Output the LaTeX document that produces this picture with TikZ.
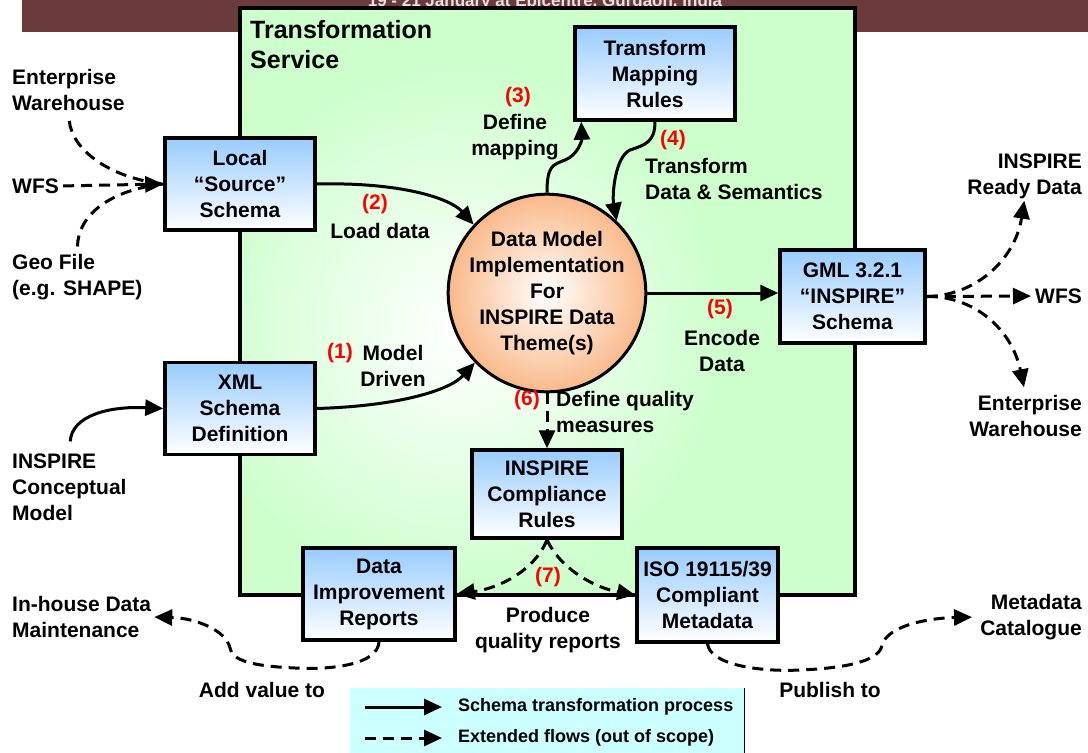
\documentclass[tikz,border=0pt]{standalone}
\usepackage{fontspec}
\setmainfont{Liberation Sans}
\usetikzlibrary{arrows.meta}
\definecolor{bannerred}{HTML}{6B3A3A}
\definecolor{servicegreen}{HTML}{CCFFCC}
\definecolor{schemablue}{HTML}{99CCFF}
\definecolor{themeorange}{HTML}{F9B98A}
\definecolor{legendcyan}{HTML}{CCFFFF}
\definecolor{stepred}{HTML}{FF0000}
\begin{document}
\begin{tikzpicture}[x=1pt, y=-1pt,
    txt/.style={font=\fontsize{21}{26}\selectfont\bfseries, inner sep=0pt, align=center},
    schemabox/.style={txt, draw, line width=3.5pt, top color=schemablue, bottom color=white, minimum width=150pt, minimum height=92pt},
    stepno/.style={txt, text=stepred},
    flow/.style={line width=3pt, -{Triangle[length=18pt, width=16pt]}},
    extflow/.style={flow, dash pattern=on 11pt off 7pt},
    legendtxt/.style={font=\fontsize{18}{21}\selectfont\bfseries, inner sep=0pt, anchor=west}]
\useasboundingbox (0,0) rectangle (1088,753);
\fill[bannerred] (22,0) rectangle (1088,32);
\node[font=\fontsize{17}{20}\selectfont\bfseries, text=white!85!bannerred, anchor=base] (banner) at (545,6) {19 - 21 January at Epicentre, Gurgaon, India};
\fill[servicegreen] (240,8) rectangle (855,595);
\begin{scope}
  \clip (240,8) rectangle (855,595);
  \shade[inner color=white, outer color=servicegreen] (460,330) circle (270);
\end{scope}
\draw[line width=3.5pt] (240,8) rectangle (855,595);
\node[txt, font=\fontsize{25}{30}\selectfont\bfseries, align=left, anchor=west] (servicetitle) at (250,45) {Transformation\\Service};

\node[schemabox, minimum width=160pt, minimum height=93pt] (maprules) at (655,73.5) {Transform\\Mapping\\Rules};
\node[schemabox] (local) at (240,184) {Local\\“Source”\\Schema};
\node[schemabox] (xmlschema) at (240,408.5) {XML\\Schema\\Definition};
\node[schemabox, minimum width=145pt, minimum height=93pt] (gml) at (852.5,296.5) {GML 3.2.1\\“INSPIRE”\\Schema};
\node[schemabox, minimum height=88pt] (compliance) at (547,494) {INSPIRE\\Compliance\\Rules};
\node[schemabox, minimum width=152pt] (improvement) at (379,594) {Data\\Improvement\\Reports};
\node[schemabox, minimum width=141pt, minimum height=94pt] (isometa) at (707.5,595) {ISO 19115/39\\Compliant\\Metadata};
\node[txt, circle, draw, line width=3pt, inner color=white, outer color=themeorange, minimum size=188pt] (theme) at (547,293) {Data Model\\Implementation\\For\\INSPIRE Data\\Theme(s)};

\node[txt, align=left, anchor=west] (lwarehouse) at (12,90) {Enterprise\\Warehouse};
\node[txt, anchor=west] (lwfs) at (12,186) {WFS};
\node[txt, align=left, anchor=west] (geofile) at (12,277.5) {Geo File\\(e.g. SHAPE)};
\node[txt, align=left, anchor=west] (conceptmodel) at (12,487) {INSPIRE\\Conceptual\\Model};
\node[txt, align=left, anchor=west] (inhouse) at (12,617) {In-house Data\\Maintenance};
\node[txt] (addvalue) at (262,690) {Add value to};
\node[txt] (produce) at (548,630) {Produce\\quality reports};
\node[txt] (publish) at (830,690) {Publish to};
\node[txt, align=right, anchor=east] (catalogue) at (1082,617) {Metadata\\Catalogue};
\node[txt, align=right, anchor=east] (readydata) at (1082,176) {INSPIRE\\Ready Data};
\node[txt, anchor=west] (rwfs) at (1035,296) {WFS};
\node[txt, align=right, anchor=east] (rwarehouse) at (1082,416) {Enterprise\\Warehouse};

\node[stepno] (step3) at (518,97) {(3)};
\node[txt] (definemap) at (515,137) {Define\\mapping};
\node[stepno] (step4) at (673,140) {(4)};
\node[txt, align=left, anchor=west] (transformdata) at (645,178.5) {Transform\\Data \& Semantics};
\node[stepno] (step2) at (375,204) {(2)};
\node[txt] (loaddata) at (380,231) {Load data};
\node[stepno] (step1) at (340,353) {(1)};
\node[txt] (modeldriven) at (393,366) {Model\\Driven};
\node[stepno] (step5) at (720,309) {(5)};
\node[txt] (encode) at (722,351) {Encode\\Data};
\node[stepno] (step6) at (527,400) {(6)};
\node[txt, align=left, anchor=west] (qualitymeasures) at (556,411.5) {Define quality\\measures};
\node[stepno] (step7) at (548,577) {(7)};

\draw[flow] (local.east) .. controls (400,182) and (450,198) .. (theme.137);
\draw[flow] (xmlschema.east) .. controls (400,406) and (450,390) .. (theme.224);
\draw[flow] (theme.north) .. controls (547,165) and (553,165) .. (565,160) .. controls (578,155) and (582,140) .. ([xshift=8pt]maprules.south west);
\draw[flow] (maprules.south) .. controls (655,142) and (645,145) .. (630,150) .. controls (615,157) and (612,195) .. (theme.46);
\draw[flow] (theme.east) -- (theme.east -| gml.west);
\draw[extflow] (theme.south) -- (compliance.north);
\draw[extflow] (compliance.south) .. controls (535,570) and (500,588) .. (improvement.east);
\draw[extflow] (compliance.south) .. controls (561,570) and (596,588) .. (isometa.west);

\draw[extflow, -, shorten <=10pt] (lwarehouse.south) .. controls (72,150) and (110,178) .. (local.west);
\draw[extflow, shorten <=4pt] (lwfs.east) -- (local.west);
\draw[extflow, -, shorten <=8pt] (geofile.north) .. controls (78,215) and (110,190) .. (local.west);
\draw[flow, shorten <=12pt] (conceptmodel.north) .. controls (72,415) and (110,406) .. (xmlschema.west);

\draw[extflow, shorten >=2pt] (gml.east) .. controls (975,296) and (1015,260) .. (readydata.south);
\draw[extflow, shorten >=4pt] (gml.east) -- (rwfs.west);
\draw[extflow, shorten >=8pt] (gml.east) .. controls (975,296) and (1012,330) .. (rwarehouse.north);

\draw[extflow, shorten >=3pt] (improvement.south) .. controls (378,665) and (330,670) .. (295,668) .. controls (250,666) and (232,660) .. (230,648) .. controls (226,630) and (195,618) .. (inhouse.east);
\draw[extflow, shorten >=8pt] (isometa.south) .. controls (710,665) and (760,672) .. (800,670) .. controls (850,668) and (880,660) .. (882,645) .. controls (888,625) and (930,618) .. (catalogue.west);

\fill[legendcyan] (350,688) rectangle (744,753);
\draw[line width=1pt] (744,688) -- (744,753);
\coordinate (solidstart) at (365,707);
\node[legendtxt] (solidlabel) at (458,707) {Schema transformation process};
\draw[flow, shorten >=16pt] (solidstart) -- (solidlabel.west);
\coordinate (dashstart) at (365,738);
\node[legendtxt] (dashlabel) at (458,738) {Extended flows (out of scope)};
\draw[extflow, shorten >=16pt] (dashstart) -- (dashlabel.west);
\end{tikzpicture}
\end{document}
